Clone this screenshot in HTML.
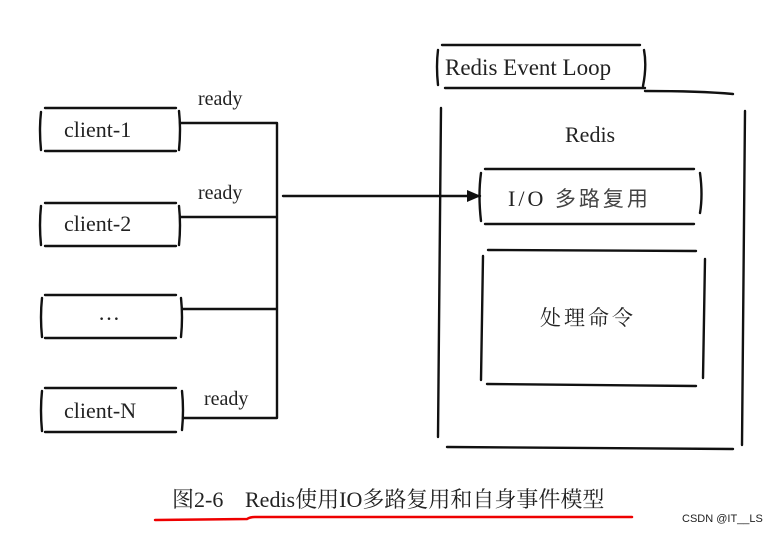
<!DOCTYPE html>
<html><head><meta charset="utf-8"><style>
html,body{margin:0;padding:0;background:#fff;}
svg{display:block;}
text{font-family:"Liberation Serif","Noto Serif CJK SC",serif;fill:#222;}
</style></head><body>
<svg width="774" height="533" viewBox="0 0 774 533" xmlns="http://www.w3.org/2000/svg">
<defs><marker id="ah" markerWidth="14" markerHeight="12" refX="13" refY="6" orient="auto" markerUnits="userSpaceOnUse"><path d="M0,0 L14,6 L0,12 Z" fill="#111"/></marker></defs>
<g stroke="#111" stroke-width="2.4" fill="none" stroke-linecap="round">
<path d="M45,108 L176,108 M45,151 L176,151 M41,112 Q39,130 41,150 M179,111 Q181,130 179,150"/>
<path d="M45,203 L176,203 M45,246 L176,246 M41,206 Q39,225 41,245 M179,206 Q181,225 179,245"/>
<path d="M45,295 L176,295 M45,338 L176,338 M42,298 Q40,317 42,337 M181,298 Q183,317 181,337"/>
<path d="M45,388 L176,388 M45,432 L176,432 M42,391 Q40,410 42,431 M182,391 Q184,410 182,430"/>
<path d="M180,123 L277,123 M180,217 L277,217 M182,309 L277,309 M183,418 L277,418 M277,123 L277,418"/>
<path d="M283,196 L480,196" marker-end="url(#ah)"/>
<path d="M442,45 L640,45 M445,88 L645,88 M438,50 Q436,66 438,85 M644,50 Q647,66 643,86"/>
<path d="M645,91 Q700,91 733,94 M441,108 L438,437 M745,111 L742,445 M447,447 L733,449"/>
<path d="M485,169 L694,169 M485,224 L694,224 M481,173 Q478,195 481,221 M700,173 Q703,195 700,213"/>
<path d="M488,250 L696,251 M487,384 L696,386 M483,256 L481,380 M705,259 L703,378"/>
</g>
<g font-size="22">
<text x="64" y="137">client-1</text>
<text x="64" y="231">client-2</text>
<text x="98" y="320">…</text>
<text x="64" y="418">client-N</text>
</g>
<g font-size="20">
<text x="198" y="105">ready</text>
<text x="198" y="199">ready</text>
<text x="204" y="405">ready</text>
</g>
<text x="445" y="75" font-size="23">Redis Event Loop</text>
<text x="565" y="142" font-size="22">Redis</text>
<text x="508" y="206" font-size="22" letter-spacing="3">I/O <tspan font-family="Noto Sans CJK SC,sans-serif" font-size="21" fill="#444">多路复用</tspan></text>
<text x="540" y="325" font-size="21" font-family="Noto Sans CJK SC,sans-serif" fill="#555" letter-spacing="3">处理命令</text>
<text x="172" y="507" font-size="22" fill="#000">图2-6<tspan x="245">Redis使用IO多路复用和自身事件模型</tspan></text>
<path d="M155,520 L247,519 Q250,517 255,517 L632,517" stroke="#e00" stroke-width="2.5" fill="none" stroke-linecap="round"/>
<text x="682" y="522" font-size="11" fill="#999" style="font-family:'Liberation Sans',sans-serif">CSDN @IT__LS</text>
</svg>
</body></html>
